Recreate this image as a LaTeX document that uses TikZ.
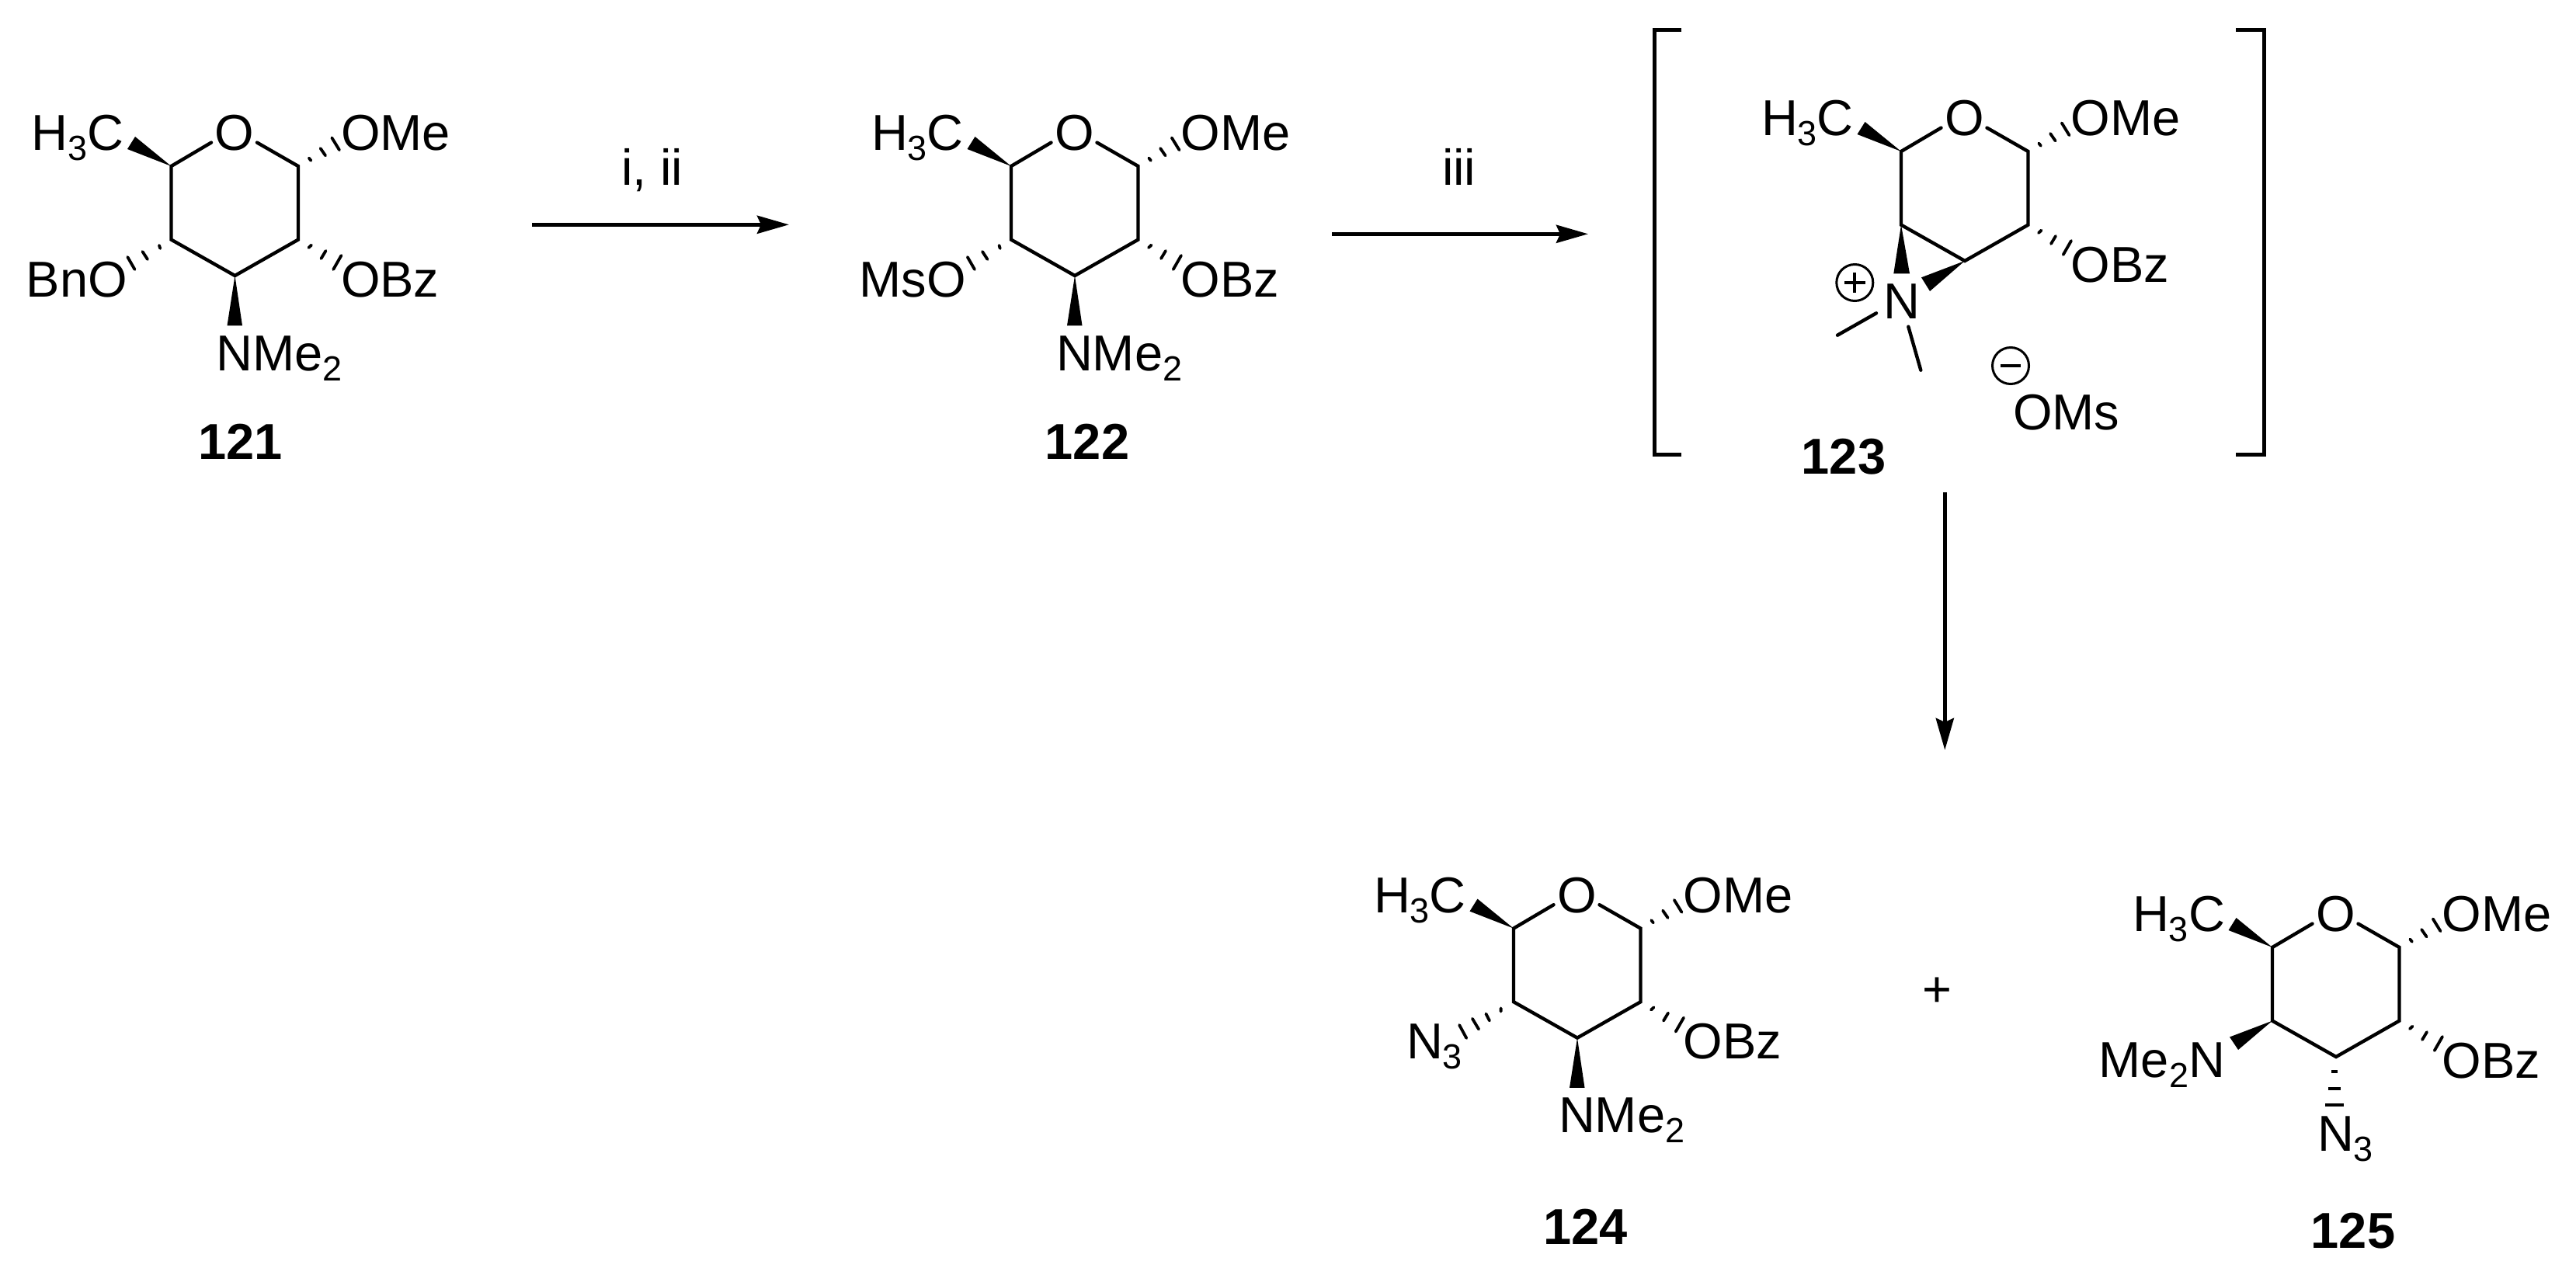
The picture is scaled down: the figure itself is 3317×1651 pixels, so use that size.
\documentclass[tikz,border=0pt]{standalone}
\usepackage{fontspec}
\setmainfont{Liberation Sans}
\usetikzlibrary{arrows.meta}
\tikzset{
  bond/.style={line width=4.4pt,line join=miter,line cap=round},
  hash/.style={line width=3.8pt,line cap=round},
  hashflat/.style={line width=3.8pt},
  wedge/.style={fill=black,draw=none},
  lab/.style={inner sep=0pt,outer sep=0pt,anchor=base west,font=\chemfont},
  labr/.style={inner sep=0pt,outer sep=0pt,anchor=base east,font=\chemfont},
  cmpd/.style={inner sep=0pt,outer sep=0pt,anchor=base,font=\chemfont\bfseries},
  rxn/.style={line width=5pt,-{Stealth[length=41pt,width=23pt,inset=5pt]}},
  brack/.style={line width=5pt,line join=miter},
  chg/.style={line width=3pt,draw,circle,minimum size=47pt,inner sep=0pt},
  chgsign/.style={line width=4pt}
}
\newcommand{\chemfont}{\fontsize{65}{78}\selectfont}
\newcommand{\dn}[1]{\raisebox{-13pt}{\fontsize{45}{54}\selectfont #1}}
% common pyranoside: ring, CH3 wedge, OMe and OBz hashes
\newcommand{\pyran}[3]{%
 \begin{scope}[shift={(#2,#3)}]
  \coordinate (#1c5) at (0,0);
  \coordinate (#1c1) at (163.5,0);
  \coordinate (#1c2) at (163.5,94.6);
  \coordinate (#1c3) at (82,141);
  \coordinate (#1c4) at (0,94.6);
  \coordinate (#1oa) at (51.5,-30.4);
  \coordinate (#1ob) at (110.5,-30.4);
  \draw[bond] (#1oa) -- (#1c5) -- (#1c4) -- (#1c3) -- (#1c2) -- (#1c1) -- (#1ob);
  \fill[wedge] (#1c5) -- (-46.5,-38) -- (-56.5,-22) -- cycle;
  \draw[hash] (177.3,-10.5) -- (179.9,-7.2) (192.1,-23) -- (198.6,-13.6) (206.8,-36.6) -- (216.5,-20.8);
  \draw[hash] (177,105) -- (180.5,101.6) (193,119) -- (199,109) (208.7,133) -- (219,115);
  \node[lab] (#1o) at (56,-20.5) {O};
  \node[lab] (#1ome) at (218.5,-20.5) {OMe};
  \node[lab] (#1ch) at (-180,-20.5) {H\dn{3}C};
  \node[lab] (#1obz) at (218.5,168) {OBz};
 \end{scope}}
% wedge down to NMe2
\newcommand{\wedgeN}[3]{%
 \begin{scope}[shift={(#2,#3)}]
  \fill[wedge] (#1c3) -- (72,205.3) -- (91.5,205.3) -- cycle;
  \node[lab] (#1nme) at (58,263) {NMe\dn{2}};
 \end{scope}}
% OR hash at C4
\newcommand{\hashO}[2]{%
 \begin{scope}[shift={(#1,#2)}]
  \draw[hash] (-15.5,102) -- (-14.2,106) (-37,110) -- (-30.5,120) (-56.2,117) -- (-47,133);
 \end{scope}}
\begin{document}
\begin{tikzpicture}[x=1pt,y=-1pt]
\useasboundingbox (0,0) rectangle (3317,1651);
\fill[white] (0,0) rectangle (3317,1651);

% 121
\pyran{a}{220.5}{214}
\wedgeN{a}{220.5}{214}
\hashO{220.5}{214}
\node[labr] (abno) at (164,382) {BnO};
\node[cmpd] (alab) at (309.5,591) {121};

% 122
\pyran{b}{1302}{214}
\wedgeN{b}{1302}{214}
\hashO{1302}{214}
\node[labr] (bmso) at (1244,382) {MsO};
\node[cmpd] (blab) at (1400,591) {122};

% 123
\pyran{c}{2448}{195}
\fill[wedge] (cc4) -- (2438.3,352.3) -- (2459,352.3) -- cycle;
\fill[wedge] (cc3) -- (2474,357.3) -- (2485,375) -- cycle;
\node[lab] (cn) at (2425,410.5) {N};
\coordinate (cma) at (2416,403.3);
\coordinate (cmb) at (2366,431.7);
\coordinate (cmc) at (2457.3,420.7);
\coordinate (cmd) at (2473.3,476.7);
\draw[bond] (cma) -- (cmb);
\draw[bond] (cmc) -- (cmd);
\node[chg] (cplus) at (2388.3,364) {};
\draw[chgsign] (cplus.center) ++(-13.3,0) -- ++(26.6,0) (cplus.center) ++(0,-13) -- ++(0,26);
\node[chg] (cminus) at (2589,471) {};
\draw[chgsign] (cminus.center) ++(-13,0) -- ++(26,0);
\node[lab] (coms) at (2592,553) {OMs};
\node[cmpd] (clab) at (2374,610.4) {123};
\draw[brack] (2165,38.4) -- (2130,38.4) -- (2130,585) -- (2165,585);
\draw[brack] (2879,38.4) -- (2915,38.4) -- (2915,585) -- (2879,585);

% 124
\pyran{d}{1949}{1195.6}
\wedgeN{d}{1949}{1195.6}
\begin{scope}[shift={(1949,1291)}]
 \draw[hash] (-16.4,7.4) -- (-16.4,11.5) (-35.6,14.6) -- (-31,23.5) (-53.1,20.8) -- (-44.9,34.5) (-69.9,29) -- (-60.7,46);
\end{scope}
\node[lab] (dn) at (1811,1363) {N\dn{3}};
\node[cmpd] (dlab) at (2041.5,1602) {124};

% plus
\node[inner sep=0pt,anchor=base,font=\chemfont] (pl) at (2494,1296) {+};

% 125
\pyran{e}{2926}{1220}
\fill[wedge] (ec4) -- (2871,1335.5) -- (2882,1352) -- cycle;
\draw[hashflat] (3002,1380) -- (3010,1380) (2998,1402) -- (3014,1402) (2994.4,1423) -- (3017.6,1423);
\node[labr] (enm) at (2865,1387) {Me\dn{2}N};
\node[lab] (en) at (2984,1482) {N\dn{3}};
\node[cmpd] (elab) at (3030,1607) {125};

% arrows
\coordinate (a1s) at (685,289.3);
\coordinate (a1e) at (1016,289.3);
\coordinate (a2s) at (1715,301.3);
\coordinate (a2e) at (2045,301.3);
\coordinate (a3s) at (2504.3,634);
\coordinate (a3e) at (2504.3,966);
\draw[rxn] (a1s) -- (a1e);
\draw[rxn] (a2s) -- (a2e);
\draw[rxn] (a3s) -- (a3e);
\node[lab] (t1) at (800,238.3) {i, ii};
\node[lab] (t2) at (1857,238.3) {iii};
\end{tikzpicture}
\end{document}
